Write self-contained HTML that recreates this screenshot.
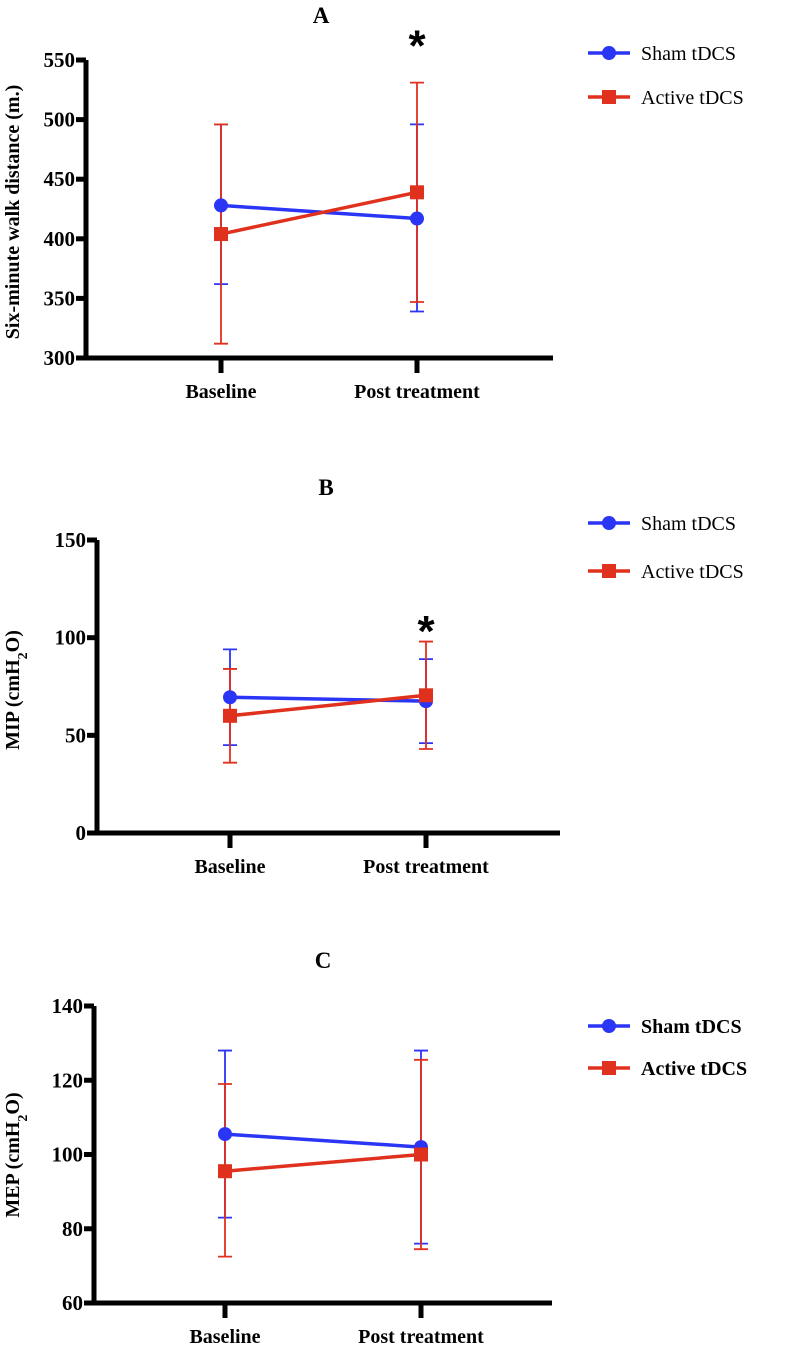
<!DOCTYPE html>
<html><head><meta charset="utf-8"><style>
body{margin:0;background:#fff;}
svg{display:block;font-family:"Liberation Serif",serif;}
</style></head><body>
<svg id="s" width="800" height="1345"></svg>
<script>
const categories=["Baseline","Post treatment"];
const aSham=[428,417], aShamLo=[362,339], aShamHi=[496,496];
const aAct=[404,439], aActLo=[312,347], aActHi=[496,531];
const aTicks=[300,350,400,450,500,550];
const bSham=[69.5,67.5], bShamLo=[45,46], bShamHi=[94,89];
const bAct=[60,70.5], bActLo=[36,43], bActHi=[84,98];
const bTicks=[0,50,100,150];
const cSham=[105.5,102], cShamLo=[83,76], cShamHi=[128,128];
const cAct=[95.5,100], cActLo=[72.5,74.5], cActHi=[119,125.5];
const cTicks=[60,80,100,120,140];
const seriesNames=["Sham tDCS","Active tDCS"];

const NS="http://www.w3.org/2000/svg";
const svg=document.getElementById('s');
function mk(t,a,p){const e=document.createElementNS(NS,t);for(const k in a)e.setAttribute(k,a[k]);(p||svg).appendChild(e);return e;}
const BLUE="#2b35f5", RED="#e0301e";
function panel(o){
  const g=mk('g',{});
  
  
  const ymin=o.ticks[0], ymax=o.ticks[o.ticks.length-1];
  const Y=v=>o.yB+(v-ymin)/(ymax-ymin)*(o.yT-o.yB);
  const X=i=>o.xs[i];
  const t=mk('text',{x:o.tx,y:o.ty,'text-anchor':'middle','font-size':23,'font-weight':'bold'},g);t.textContent=o.title;
  
  const ax=mk('path',{d:`M${o.ax},${o.yT}V${o.yB}H${o.xr}`,stroke:'#000','stroke-width':5,fill:'none'},g);
  
  o.ticks.forEach(v=>{
    mk('line',{x1:o.ax-10,x2:o.ax,y1:Y(v),y2:Y(v),stroke:'#000','stroke-width':5},g);
    const tl=mk('text',{x:o.ax-11,y:Y(v)+7,'text-anchor':'end','font-size':21,'font-weight':'bold'},g);tl.textContent=v;
    
  });
  categories.forEach((c,i)=>{
    mk('line',{x1:X(i),x2:X(i),y1:o.yB,y2:o.yB+15,stroke:'#000','stroke-width':5},g);
    const xl=mk('text',{x:X(i),y:o.yB+40,'text-anchor':'middle','font-size':20,'font-weight':'bold'},g);xl.textContent=c;
    
  });
  const yl=mk('text',{transform:`translate(${o.lx},${o.ly}) rotate(-90)`,'text-anchor':'middle','font-size':20,'font-weight':'bold'},g);
  yl.innerHTML=o.ylabel;
  
  const S=[[o.sham,o.shamLo,o.shamHi,BLUE,'sham'],[o.act,o.actLo,o.actHi,RED,'active']];
  S.forEach(([m,lo,hi,col,nm])=>{
    m.forEach((v,i)=>{
      const e=mk('path',{d:`M${X(i)},${Y(lo[i])}V${Y(hi[i])}M${X(i)-7},${Y(lo[i])}h14M${X(i)-7},${Y(hi[i])}h14`,stroke:col,'stroke-width':1.8,fill:'none'},g);
      
    });
  });
  S.forEach(([m,lo,hi,col,nm])=>{
    const l=mk('polyline',{points:m.map((v,i)=>X(i)+','+Y(v)).join(' '),stroke:col,'stroke-width':3.5,fill:'none'},g);
    
    m.forEach((v,i)=>{
      const p=nm==='sham'?mk('circle',{cx:X(i),cy:Y(v),r:7,fill:col},g):mk('rect',{x:X(i)-7,y:Y(v)-7,width:14,height:14,fill:col},g);
      
    });
  });
  if(o.star!=null){const st=mk('text',{x:X(1),y:Y(o.star)+22,'text-anchor':'middle','font-size':44,'font-weight':'bold','font-family':'Liberation Sans'},g);st.textContent='*';
    }
  [[BLUE,'c',o.lg[0]],[RED,'r',o.lg[1]]].forEach(([col,sh,y],k)=>{
    mk('line',{x1:588,x2:630,y1:y,y2:y,stroke:col,'stroke-width':3.5},g);
    if(sh==='c')mk('circle',{cx:609,cy:y,r:7,fill:col},g);else mk('rect',{x:602,y:y-7,width:14,height:14,fill:col},g);
    const lt=mk('text',{x:641,y:y+7,'font-size':20,'font-weight':o.lgBold?'bold':'normal'},g);lt.textContent=seriesNames[k];
    
  });
}
panel({id:'a',title:'A',tx:321,ty:23,ax:86,yT:60,yB:358,xr:553,xs:[221,417],ticks:aTicks,
  sham:aSham,shamLo:aShamLo,shamHi:aShamHi,act:aAct,actLo:aActLo,actHi:aActHi,star:568,
  ylabel:'Six-minute walk distance (m.)',lx:19,ly:212,lg:[53,97]});
panel({id:'b',title:'B',tx:326,ty:495,ax:97,yT:540,yB:833,xr:560,xs:[230,426],ticks:bTicks,
  sham:bSham,shamLo:bShamLo,shamHi:bShamHi,act:bAct,actLo:bActLo,actHi:bActHi,star:107,
  ylabel:'MIP (cmH<tspan baseline-shift="sub" font-size="14">2</tspan>O)',lx:19,ly:690,lg:[523,571]});
panel({id:'c',title:'C',tx:323,ty:968,ax:94,yT:1006,yB:1303,xr:552,xs:[225,421],ticks:cTicks,
  sham:cSham,shamLo:cShamLo,shamHi:cShamHi,act:cAct,actLo:cActLo,actHi:cActHi,star:null,
  ylabel:'MEP  (cmH<tspan baseline-shift="sub" font-size="14">2</tspan>O)',lx:19,ly:1155,lg:[1026,1068],lgBold:true});
</script>
</body></html>
